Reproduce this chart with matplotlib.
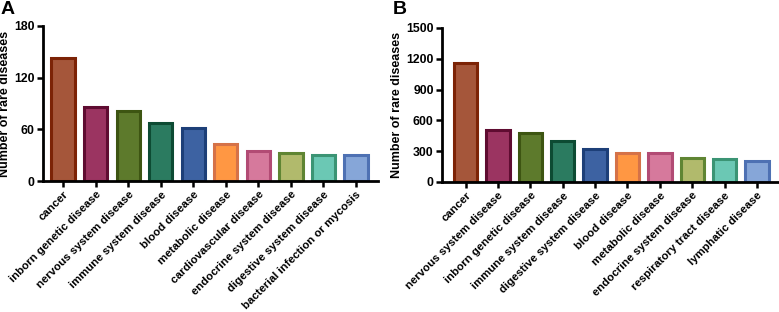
import matplotlib.pyplot as plt

plt.rcParams['font.family'] = ['Liberation Sans', 'DejaVu Sans']
plt.rcParams['font.weight'] = 'bold'

labels_a = ['cancer', 'inborn genetic disease', 'nervous system disease',
            'immune system disease', 'blood disease', 'metabolic disease',
            'cardiovascular disease', 'endocrine system disease',
            'digestive system disease', 'bacterial infection or mycosis']
values_a = [143, 86, 81, 67, 61, 43, 35, 32, 30, 30]

labels_b = ['cancer', 'nervous system disease', 'inborn genetic disease',
            'immune system disease', 'digestive system disease', 'blood disease',
            'metabolic disease', 'endocrine system disease',
            'respiratory tract disease', 'lymphatic disease']
values_b = [1155, 510, 480, 400, 325, 280, 280, 230, 228, 207]

fills = ['#a5563a', '#9b3461', '#5d7a2c', '#2b7b60', '#3d62a2',
         '#ff9743', '#d6799c', '#b1ba6c', '#6bc8b4', '#86a6d8']
edges = ['#7c2306', '#5f0c31', '#3d5512', '#0d4b33', '#1d3f78',
         '#d57248', '#b24b74', '#5f8533', '#3b9474', '#4e71b3']

fig = plt.figure(figsize=(7.79, 3.12), dpi=100)
W, H = 779, 312


def panel(rect, labels, values, yticks, letter, letter_x, xlim):
    l, t, r, b = rect
    ax = fig.add_axes([l / W, 1 - b / H, (r - l) / W, (b - t) / H])
    x = range(len(values))
    ax.bar(x, values, width=0.72, color=fills, edgecolor=edges, linewidth=2.2)
    ax.set_xlim(*xlim)
    ax.set_ylim(0, yticks[-1])
    ax.set_yticks(yticks)
    ax.set_xticks(list(x))
    ax.set_xticklabels(labels, rotation=45, ha='right', rotation_mode='anchor',
                       fontsize=8.2, fontweight='bold')
    for lab in ax.get_yticklabels():
        lab.set_fontsize(8.8)
        lab.set_fontweight('bold')
    ax.tick_params(axis='both', direction='out', length=4, width=1.8, pad=2)
    for s in ['top', 'right']:
        ax.spines[s].set_visible(False)
    for s in ['left', 'bottom']:
        ax.spines[s].set_linewidth(2)
    ax.set_ylabel('Number of rare diseases', fontsize=9, fontweight='bold', labelpad=2)
    fig.text(letter_x / W, 1 - 9 / H, letter, fontsize=14, fontweight='bold',
             va='center', ha='left')
    return ax


panel((43, 26, 378, 181), labels_a, values_a, [0, 60, 120, 180], 'A', 1, (-0.62, 9.68))
panel((442, 28, 778, 182), labels_b, values_b, [0, 300, 600, 900, 1200, 1500], 'B', 393, (-0.73, 9.65))

fig.savefig('out.png', dpi=100)
